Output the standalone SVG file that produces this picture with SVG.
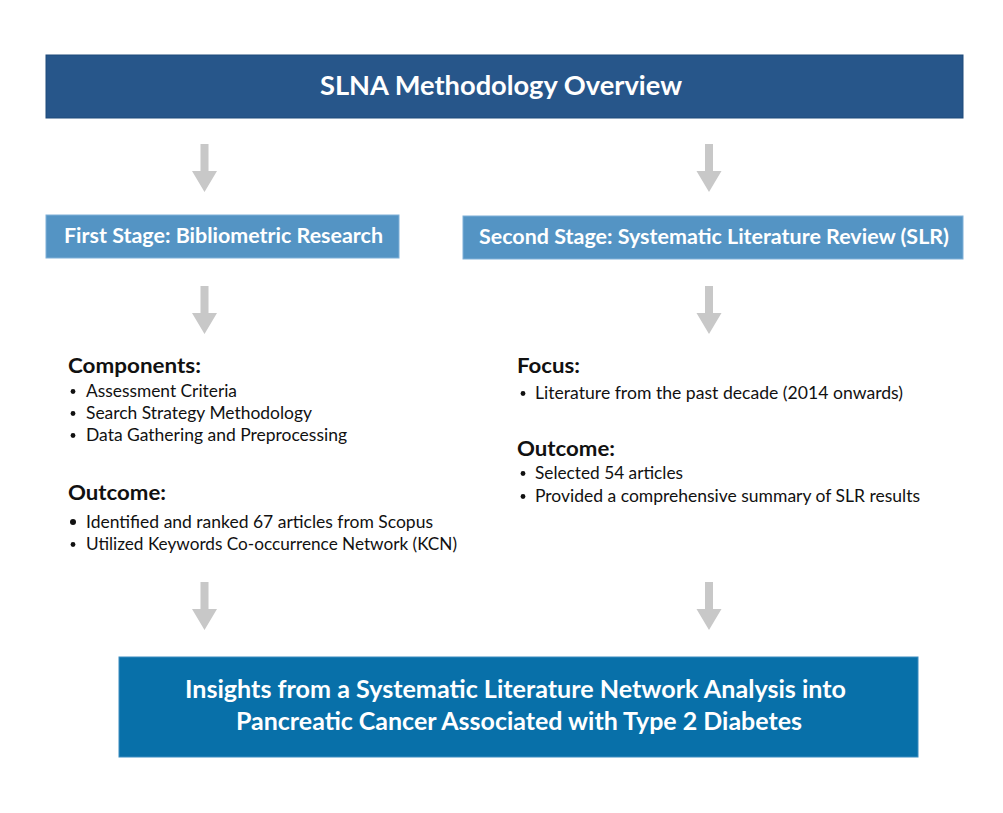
<svg xmlns="http://www.w3.org/2000/svg" width="1003" height="813" viewBox="0 0 1003 813">
<defs>
<style>
.hdr{fill:#27568a;stroke:#1f4a7a;stroke-width:1}
.stg{fill:#5494c4;stroke:#7fb0d8;stroke-width:1}
.res{fill:#0870a9;stroke:#3a8cc0;stroke-width:1}
.wt{font-family:Lato,"Liberation Sans",sans-serif;font-weight:bold;fill:#ffffff}
.hd{font-family:Lato,"Liberation Sans",sans-serif;font-weight:bold;font-size:21px;fill:#111111}
.tx{font-family:Lato,"Liberation Sans",sans-serif;font-size:17px;fill:#111111}
.arr{fill:#c8c8c8}
.bul{fill:#111111}
</style>
<path id="ar" d="M-4,0 H4 V27 H12.5 L0,48 L-12.5,27 H-4 Z"/>
</defs>
<rect width="1003" height="813" fill="#ffffff"/>

<g id="title">
<rect class="hdr" x="46" y="55" width="917" height="63"/>
<text class="wt" x="501" y="95" font-size="26" text-anchor="middle" textLength="362" lengthAdjust="spacingAndGlyphs">SLNA Methodology Overview</text>
</g>

<g id="stage1">
<rect class="stg" x="46" y="215" width="353" height="43"/>
<text class="wt" x="223.5" y="243" font-size="20" text-anchor="middle" textLength="319" lengthAdjust="spacingAndGlyphs">First Stage: Bibliometric Research</text>
</g>

<g id="stage2">
<rect class="stg" x="463" y="216" width="500" height="43"/>
<text class="wt" x="714" y="244" font-size="20" text-anchor="middle" textLength="470" lengthAdjust="spacingAndGlyphs">Second Stage: Systematic Literature Review (SLR)</text>
</g>

<g id="stage1-details">
<text class="hd" x="68" y="373" textLength="133" lengthAdjust="spacingAndGlyphs">Components:</text>
<circle class="bul" cx="73" cy="391.5" r="2.4"/>
<text class="tx" x="86" y="397" textLength="151" lengthAdjust="spacingAndGlyphs">Assessment Criteria</text>
<circle class="bul" cx="73" cy="413.5" r="2.4"/>
<text class="tx" x="86" y="419" textLength="226" lengthAdjust="spacingAndGlyphs">Search Strategy Methodology</text>
<circle class="bul" cx="73" cy="435.5" r="2.4"/>
<text class="tx" x="86" y="441" textLength="261" lengthAdjust="spacingAndGlyphs">Data Gathering and Preprocessing</text>
<text class="hd" x="68" y="500" textLength="98" lengthAdjust="spacingAndGlyphs">Outcome:</text>
<circle class="bul" cx="73" cy="522" r="3"/>
<text class="tx" x="86" y="528" textLength="347" lengthAdjust="spacingAndGlyphs">Identified and ranked 67 articles from Scopus</text>
<circle class="bul" cx="73" cy="544.5" r="2.4"/>
<text class="tx" x="86" y="550" textLength="371" lengthAdjust="spacingAndGlyphs">Utilized Keywords Co-occurrence Network (KCN)</text>
</g>

<g id="stage2-details">
<text class="hd" x="517" y="373" textLength="63" lengthAdjust="spacingAndGlyphs">Focus:</text>
<circle class="bul" cx="523" cy="393.5" r="2.4"/>
<text class="tx" x="535" y="399" textLength="368" lengthAdjust="spacingAndGlyphs">Literature from the past decade (2014 onwards)</text>
<text class="hd" x="517" y="456" textLength="98" lengthAdjust="spacingAndGlyphs">Outcome:</text>
<circle class="bul" cx="523" cy="473.5" r="2.4"/>
<text class="tx" x="535" y="479" textLength="148" lengthAdjust="spacingAndGlyphs">Selected 54 articles</text>
<circle class="bul" cx="523" cy="496.5" r="2.4"/>
<text class="tx" x="535" y="502" textLength="385" lengthAdjust="spacingAndGlyphs">Provided a comprehensive summary of SLR results</text>
</g>

<g id="result">
<rect class="res" x="119" y="657" width="799" height="100"/>
<text class="wt" x="515.5" y="698" font-size="24" text-anchor="middle" textLength="661" lengthAdjust="spacingAndGlyphs">Insights from a Systematic Literature Network Analysis into</text>
<text class="wt" x="519" y="730" font-size="24" text-anchor="middle" textLength="566" lengthAdjust="spacingAndGlyphs">Pancreatic Cancer Associated with Type 2 Diabetes</text>
</g>

<g id="connectors">
<use href="#ar" class="arr" x="204.5" y="144"/>
<use href="#ar" class="arr" x="709" y="144"/>
<use href="#ar" class="arr" x="204.5" y="286"/>
<use href="#ar" class="arr" x="709" y="286"/>
<use href="#ar" class="arr" x="204.5" y="582"/>
<use href="#ar" class="arr" x="709" y="582"/>
</g>
</svg>
